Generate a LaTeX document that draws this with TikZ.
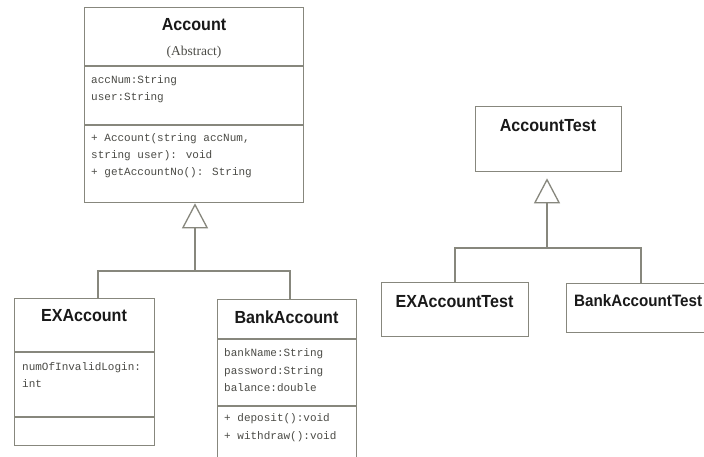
\documentclass[tikz,border=0pt]{standalone}
\usepackage{fontspec}
\setmainfont{Liberation Serif}
\newfontfamily\titlefont[FakeStretch=0.92]{Liberation Sans}
\newfontfamily\codefont{Liberation Mono}
\usetikzlibrary{arrows.meta}
\definecolor{edge}{RGB}{135,135,125}
\definecolor{ink}{RGB}{25,25,25}
\definecolor{codegray}{RGB}{75,75,70}
\begin{document}
\begin{tikzpicture}[x=1pt,y=-1pt,
  box/.style={draw=edge, line width=1.3pt, rectangle, inner sep=0pt, anchor=north west},
  title/.style={font=\titlefont\bfseries\fontsize{17.5}{20}\selectfont, text=ink, inner sep=0pt},
  sub/.style={font=\fontsize{13.5}{16}\selectfont, text=codegray, inner sep=0pt},
  attr/.style={font=\codefont\fontsize{11}{17}\selectfont, text=codegray, align=left, inner sep=0pt, anchor=west},
  rule/.style={draw=edge, line width=1.3pt},
  link/.style={draw=edge, line width=1.3pt},
  gen/.style={draw=edge, line width=1.3pt, -{Triangle[length=25pt, width=26pt, fill=white]}},
]
\clip (0,0) rectangle (704,456);
\fill[white] (0,0) rectangle (704,456);

% ---- Account hierarchy ----
\node[box, minimum width=219pt, minimum height=195pt] (acc) at (84,7) {};
\draw[rule] (acc.west |- 0,66) -- (acc.east |- 0,66);
\draw[rule] (acc.west |- 0,125) -- (acc.east |- 0,125);
\node[title] (accT) at (194,24.5) {Account};
\node[sub] (accS) at (194,52) {(Abstract)};
\node[attr] (accA) at (91,89) {accNum:String\\user:String};
\node[attr] (accM) at (91,156) {+ Account(string accNum,\\string user): void\\+ getAccountNo(): String};

\node[box, minimum width=140pt, minimum height=147pt] (exa) at (14,298) {};
\draw[rule] (exa.west |- 0,352) -- (exa.east |- 0,352);
\draw[rule] (exa.west |- 0,417) -- (exa.east |- 0,417);
\node[title] (exaT) at (84,316) {EXAccount};
\node[attr] (exaA) at (22,375.5) {numOfInvalidLogin:\\int};

\node[box, minimum width=139pt, minimum height=171pt] (bank) at (217,299) {};
\draw[rule] (bank.west |- 0,339) -- (bank.east |- 0,339);
\draw[rule] (bank.west |- 0,406) -- (bank.east |- 0,406);
\node[title] (bankT) at (286.5,317) {BankAccount};
\node[attr, font=\codefont\fontsize{11}{17.5}\selectfont] (bankA) at (224,370.5) {bankName:String\\password:String\\balance:double};
\node[attr, font=\codefont\fontsize{11}{18}\selectfont] (bankM) at (224,428) {+ deposit():void\\+ withdraw():void};

\coordinate (accJ) at (195,271);
\draw[gen] (accJ) -- (accJ |- acc.south);
\draw[link] (exa.north -| 98,0) |- (accJ) -| (bank.north -| 290,0);

% ---- Test hierarchy ----
\node[box, minimum width=146pt, minimum height=65pt] (acct) at (475,106) {};
\node[title] (acctT) at (548,126) {AccountTest};

\node[box, minimum width=147pt, minimum height=54pt] (exat) at (381,282) {};
\node[title] (exatT) at (454.5,302) {EXAccountTest};

\node[box, minimum width=160pt, minimum height=49pt] (bankt) at (566,283) {};
\node[title, anchor=west, font=\titlefont\bfseries\fontsize{16.5}{20}\selectfont] (banktT) at (574,301) {BankAccountTest};

\coordinate (tstJ) at (547,248);
\draw[gen, shorten >=6pt] (tstJ) -- (tstJ |- acct.south);
\draw[link] (exat.north -| 455,0) |- (tstJ) -| (bankt.north -| 641,0);
\end{tikzpicture}
\end{document}
